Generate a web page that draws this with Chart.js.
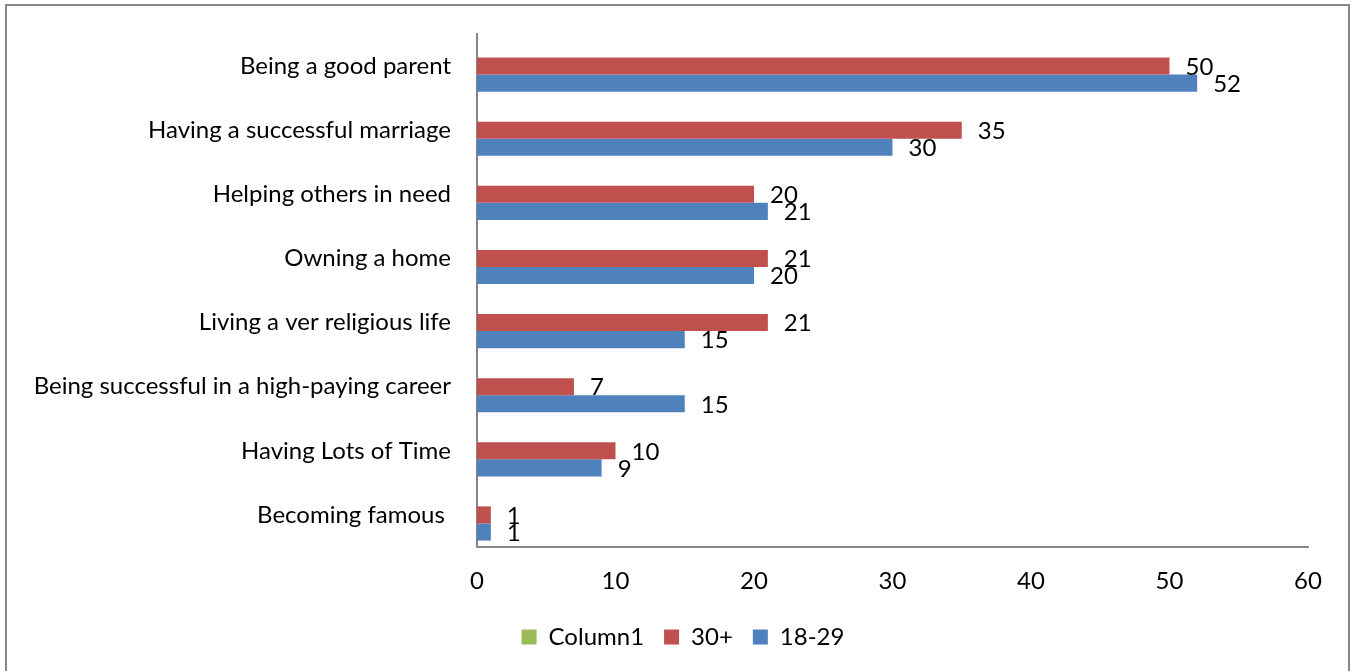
<!DOCTYPE html>
<html>
<head>
<meta charset="utf-8">
<script src="https://cdn.jsdelivr.net/npm/chart.js@4"></script>
<style>
  body { margin: 0; background: #fff; }
  canvas { display: block; }
</style>
</head>
<body>
<canvas id="chart" width="1354" height="671"></canvas>
<script>
const categories = [
    'Being a good parent',
    'Having a successful marriage',
    'Helping others in need',
    'Owning a home',
    'Living a ver religious life',
    'Being successful in a high-paying career',
    'Having Lots of Time',
    'Becoming famous '
];
const column1 = [null, null, null, null, null, null, null, null];
const over30 = [50, 35, 20, 21, 21, 7, 10, 1];
const age18to29 = [52, 30, 21, 20, 15, 15, 9, 1];
const xTicks = [0, 10, 20, 30, 40, 50, 60];

const FONT = 'Lato, "Open Sans", sans-serif';

// grey frame round the whole chart
const frame = {
    id: 'frame',
    beforeDraw(chart) {
        const c = chart.ctx;
        c.save();
        c.fillStyle = '#fff';
        c.fillRect(0, 0, chart.width, chart.height);
        c.strokeStyle = '#868686';
        c.lineWidth = 2;
        c.strokeRect(6, 5, 1343, 720);
        c.restore();
    },
    // legend sits a bit right of the plot centre in the original
    afterLayout(chart) {
        chart.legend.left = 58;
    }
};

// value labels at the end of each bar
const barLabels = {
    id: 'barLabels',
    afterDatasetsDraw(chart) {
        const c = chart.ctx;
        c.save();
        c.font = '24px ' + FONT;
        c.fillStyle = '#000';
        c.textAlign = 'left';
        c.textBaseline = 'middle';
        chart.data.datasets.forEach((ds, i) => {
            if (i === 0) return;
            chart.getDatasetMeta(i).data.forEach((bar, j) => {
                const v = ds.data[j];
                if (v == null) return;
                c.fillText(String(v), bar.x + 16, bar.y + 1);
            });
        });
        c.restore();
    }
};

new Chart(document.getElementById('chart'), {
    type: 'bar',
    data: {
        labels: categories,
        datasets: [
            { label: 'Column1', data: column1, backgroundColor: '#9BBB59' },
            { label: '30+', data: over30, backgroundColor: '#C0504D' },
            { label: '18-29', data: age18to29, backgroundColor: '#4F81BD' }
        ]
    },
    options: {
        indexAxis: 'y',
        responsive: false,
        animation: false,
        layout: { padding: { top: 34, right: 46, bottom: 12, left: 0 } },
        datasets: {
            bar: { categoryPercentage: 0.8, barPercentage: 1 }
        },
        scales: {
            x: {
                min: 0,
                max: 60,
                afterBuildTicks(scale) {
                    scale.ticks = xTicks.map(v => ({ value: v }));
                },
                afterFit(scale) { scale.height = 58; },
                grid: { display: false, drawTicks: false },
                border: { display: true, color: '#868686', width: 2 },
                ticks: { padding: 20, color: '#000', font: { family: FONT, size: 24 } }
            },
            y: {
                afterFit(scale) {
                    scale.width = 477;
                    scale.paddingTop = 0;
                    scale.paddingBottom = 0;
                },
                grid: { display: false, drawTicks: false },
                border: { display: true, color: '#868686', width: 2 },
                ticks: { padding: 26, color: '#000', autoSkip: false, font: { family: FONT, size: 24 } }
            }
        },
        plugins: {
            legend: {
                position: 'bottom',
                labels: {
                    boxWidth: 15,
                    boxHeight: 15,
                    padding: 20,
                    color: '#000',
                    font: { family: FONT, size: 24 }
                }
            },
            tooltip: { enabled: false }
        }
    },
    plugins: [frame, barLabels]
});
</script>
</body>
</html>
